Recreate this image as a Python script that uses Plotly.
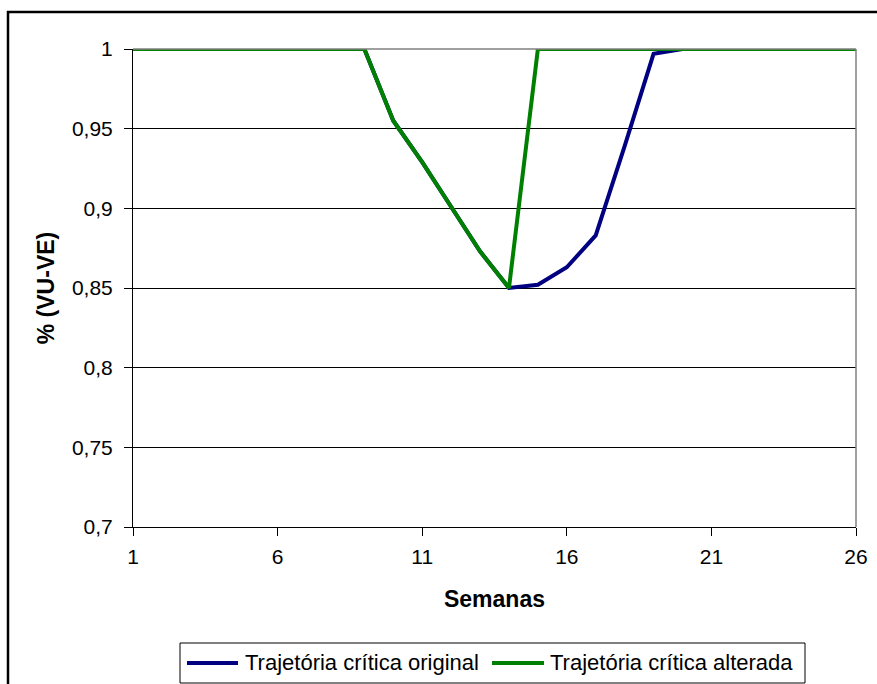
import plotly.graph_objects as go

# Weekly series (weeks 1..26)
semanas = list(range(1, 27))
original = [1, 1, 1, 1, 1, 1, 1, 1, 1,
            0.955, 0.929, 0.901, 0.873, 0.850,
            0.852, 0.863, 0.883, 0.939, 0.997,
            1, 1, 1, 1, 1, 1, 1]
alterada = [1, 1, 1, 1, 1, 1, 1, 1, 1,
            0.955, 0.929, 0.901, 0.873, 0.850,
            1, 1, 1, 1, 1, 1, 1, 1, 1, 1, 1, 1]

nome_original = "Trajetória crítica original"
nome_alterada = "Trajetória crítica alterada"

y_ticks = [0.7, 0.75, 0.8, 0.85, 0.9, 0.95, 1]
y_tick_text = ["0,7", "0,75", "0,8", "0,85", "0,9", "0,95", "1"]
x_ticks = [1, 6, 11, 16, 21, 26]

FONT = "Liberation Sans, Arial, sans-serif"
COR_ORIGINAL = "#000080"
COR_ALTERADA = "#008000"

# figure / plot-area geometry in pixels
W, H = 877, 684
ML, MR, MT, MB = 133, 21, 49, 157
PW, PH = W - ML - MR, H - MT - MB


def px_x(px):
    return (px - ML) / PW


def px_y(py):
    return (H - MB - py) / PH


fig = go.Figure()
fig.add_trace(go.Scatter(x=semanas, y=original, mode="lines", name=nome_original,
                         line=dict(color=COR_ORIGINAL, width=4)))
fig.add_trace(go.Scatter(x=semanas, y=alterada, mode="lines", name=nome_alterada,
                         line=dict(color=COR_ALTERADA, width=4)))

# legend drawn as a boxed row below the chart
legend_items = [(nome_original, COR_ORIGINAL, 187, 238, 243),
                (nome_alterada, COR_ALTERADA, 492, 544, 548)]
leg_y = 663
shapes = [
    # plot-area border (top/right grey)
    dict(type="line", xref="paper", yref="paper", x0=0, x1=1, y0=1, y1=1,
         line=dict(color="#808080", width=1.5), layer="above"),
    dict(type="line", xref="paper", yref="paper", x0=1, x1=1, y0=0, y1=1,
         line=dict(color="#808080", width=1.5), layer="above"),
    # outer chart frame
    dict(type="rect", xref="paper", yref="paper",
         x0=px_x(8), x1=px_x(900), y0=px_y(710), y1=px_y(12),
         line=dict(color="black", width=2.5), layer="above"),
    # legend box
    dict(type="rect", xref="paper", yref="paper",
         x0=px_x(180), x1=px_x(805), y0=px_y(683), y1=px_y(643),
         line=dict(color="black", width=1), fillcolor="white", layer="above"),
]
annotations = []
for nome, cor, lx0, lx1, tx in legend_items:
    shapes.append(dict(type="line", xref="paper", yref="paper",
                       x0=px_x(lx0), x1=px_x(lx1), y0=px_y(leg_y), y1=px_y(leg_y),
                       line=dict(color=cor, width=4), layer="above"))
    annotations.append(dict(text=nome, xref="paper", yref="paper",
                            x=px_x(tx), y=px_y(leg_y - 1), xanchor="left", yanchor="middle",
                            showarrow=False, font=dict(size=22, family=FONT, color="black")))

fig.update_layout(
    width=W, height=H,
    margin=dict(l=ML, r=MR, t=MT, b=MB, autoexpand=False),
    paper_bgcolor="white", plot_bgcolor="white",
    font=dict(family=FONT, color="black", size=21),
    showlegend=False,
    xaxis=dict(range=[1, 26], tickvals=x_ticks, ticks="outside", ticklen=8,
               tickcolor="black", showline=True, linecolor="black", linewidth=1,
               showgrid=False, zeroline=False, ticklabelstandoff=3,
               title=dict(text="<b>Semanas</b>", font=dict(size=23), standoff=23)),
    yaxis=dict(range=[0.7, 1.0], tickvals=y_ticks, ticktext=y_tick_text,
               ticks="outside", ticklen=8, tickcolor="black",
               showline=True, linecolor="black", linewidth=1, ticklabelstandoff=7,
               showgrid=True, gridcolor="black", gridwidth=1, zeroline=False,
               title=dict(text="<b>% (VU-VE)</b>", font=dict(size=23), standoff=10)),
    shapes=shapes,
    annotations=annotations,
)

fig.write_html("out.html")
